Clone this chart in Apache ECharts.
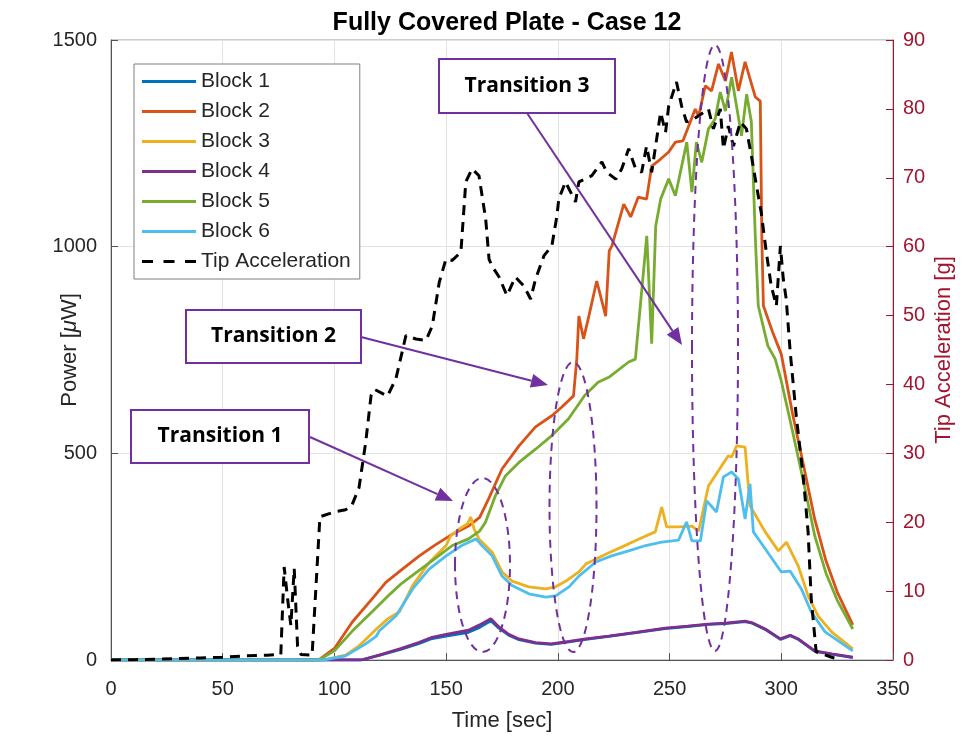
<!DOCTYPE html>
<html><head><meta charset="utf-8">
<script src="https://cdn.jsdelivr.net/npm/echarts@6/dist/echarts.min.js"></script>
<style>html,body{margin:0;padding:0;background:#fff}#c{width:978px;height:737px}</style>
</head><body><div id="c"></div>
<script>
// ---- data: [time (s), value] ----
const block1 = [[0,0],[112,0],[120,11],[130,26],[138,40],[143.7,52],[150,58],[160,67],[165,79],[170,95],[173.6,77],[178,60],[182.6,49],[190,41],[197,38],[205,44],[212.5,50],[222.8,57],[235,66],[248,76],[258,81],[267.4,86],[275,88],[283.8,93],[287,89],[292.8,74],[299.6,50],[304,59],[307.6,50],[315,21],[322.5,14],[332,6]];
const block2 = [[0,0],[93,0],[100,28],[108,92],[118,155],[123,188],[130,218],[138,252],[145,278],[153,305],[160,324],[165,345],[169,390],[175,462],[182.6,518],[190,564],[197.3,591],[201.8,612],[207,639],[208.5,730],[209.4,832],[211.5,777],[214,835],[217.4,917],[221.4,832],[223,990],[224.2,1002],[229.5,1103],[232.6,1072],[236,1120],[239.7,1115],[242,1195],[246,1212],[249.6,1229],[252.6,1253],[256,1256],[261.5,1333],[263,1316],[266,1389],[268.8,1377],[271.9,1442],[275,1401],[277.7,1471],[280.8,1377],[283.8,1447],[288.4,1362],[290.6,1352],[291.3,1019],[292,857],[296,795],[300,740],[305,597],[310,470],[315,340],[320,240],[325,165],[332,85]];
const block3 = [[0,0],[95,0],[105,12],[111,34],[118.8,75],[124,100],[129,116],[135,180],[142.4,236],[150,277],[152,300],[155.8,317],[159.5,329],[161,346],[162.5,317],[164.7,293],[170.6,261],[175,213],[179.5,191],[187,177],[194.6,172],[199,177],[203.6,191],[209.4,213],[212.5,232],[221.4,256],[231.7,281],[239.3,300],[243.6,310],[246.5,370],[248.7,322],[254,322],[260,324],[263,312],[267.4,421],[273.2,469],[276.3,494],[277.8,491],[280,518],[283.8,515],[286,373],[292.8,310],[298.7,264],[302.3,285],[307.6,227],[312,155],[316.5,106],[322.5,68],[332,27]];
const block4 = [[0,0],[112,0],[120,12],[130,28],[138,43],[143.7,55],[150,62],[160,72],[165,85],[170,100],[173.6,80],[178,62],[182.6,51],[190,42],[197,39],[205,45],[212.5,51],[222.8,58],[235,67],[248,77],[258,82],[267.4,87],[275,89],[283.8,94],[287,90],[292.8,75],[299.6,51],[304,60],[307.6,51],[315,22],[322.5,15],[332,7]];
const block5 = [[0,0],[93,0],[100,22],[108,70],[118,123],[125,160],[130,185],[137,213],[145,245],[152.8,277],[160,293],[165,312],[167.6,333],[172,397],[176.6,446],[182.6,478],[190,510],[197.3,543],[204.7,583],[212,640],[218,672],[222.8,684],[231.7,721],[234.7,728],[239.8,1026],[242,765],[243.8,1050],[246,1115],[249.6,1164],[252.6,1123],[257.7,1253],[260,1132],[262,1253],[264.4,1204],[267.4,1285],[270.4,1309],[272.7,1374],[275,1328],[277.8,1410],[282.2,1268],[284.5,1369],[286.6,1302],[288.4,1019],[289.7,857],[294,760],[297.3,728],[300,675],[305,554],[310,430],[315,300],[320,210],[325,145],[332,75]];
const block6 = [[0,0],[95,0],[105,10],[114,39],[118.8,58],[120,70],[127.6,107],[135,172],[142.4,220],[150,252],[157,277],[163.4,293],[166,277],[170.6,252],[175,203],[179.5,180],[187,160],[194.6,152],[199,155],[205,177],[209.4,203],[217,237],[224,252],[231.7,264],[239.3,277],[246.5,285],[254,290],[257.6,334],[260,288],[263.8,288],[266.6,385],[271,358],[274.1,443],[277.8,455],[280.8,438],[283.8,341],[286,426],[287.5,310],[292.8,269],[300,213],[304,215],[309,172],[313.4,116],[319.6,68],[332,22]];
const tipAccel = [[0,0],[10,0.05],[20,0.1],[30,0.2],[40,0.3],[50,0.4],[60,0.6],[70,0.7],[76,0.8],[77.5,13.5],[79,9],[80.5,5],[82,13.3],[83.5,2],[85,0.8],[90,0.7],[92.5,15],[93.5,20.8],[100,21.5],[105,21.8],[107.6,22.3],[111,25],[114,31.6],[116.4,38.4],[117.9,39.3],[123.7,38.3],[127.5,40.8],[132,47.1],[136.5,46.6],[141,46.4],[143.8,48.5],[146.9,54.8],[149.9,58.2],[152.7,58],[156.6,59.2],[158.8,69.4],[161.6,71.3],[164.7,70.3],[167.7,64],[169.2,58.2],[170.5,57.2],[173.7,55.6],[177.2,52.9],[181,55.6],[184.8,54.3],[187.8,52.4],[190,55.3],[193.8,58.7],[197.3,60.1],[199.6,64.5],[200.4,66.9],[203.4,69.4],[207.9,66.5],[209.4,69.4],[215.2,70.3],[219.7,72.3],[221.9,70.8],[225.9,69.8],[228.6,71.3],[231.7,74.2],[234.8,71.3],[237.5,70.8],[239.7,74.6],[242,70.8],[246,79.5],[248.2,76.6],[249.6,80.4],[253.1,83.9],[255.4,80.4],[257.6,78.1],[260.7,78.5],[263,79],[267.4,80],[269.6,77.1],[272.7,80],[274.1,74.2],[276.3,77.5],[278.6,74.6],[281.7,78.1],[284.4,77.1],[286.6,73.2],[288.4,69.8],[291,65],[293.3,59.2],[295.5,54.3],[297.8,51.4],[299.6,60.1],[300.9,55.3],[302.2,52.4],[304,44.7],[306.7,35.4],[309.8,26.7],[312,18.6],[313.4,8.9],[315.6,1.2],[322.5,0.4],[326,0.1]];

const seriesNames = ['Block 1','Block 2','Block 3','Block 4','Block 5','Block 6','Tip Acceleration'];
const seriesColors = ['#0072BD','#D95319','#EDB120','#7E2F8E','#77AC30','#4DBEEE','#000000'];
const titleText = 'Fully Covered Plate - Case 12';
const xName = 'Time [sec]';
const annotations = ['Transition 1','Transition 2','Transition 3'];

const purple = '#7030A0';
const axisGray = '#262626';
const crimson = '#A2142F';
const FONT = '"Liberation Sans", Arial, sans-serif';
const solidIcon = 'path://M0,0h54v3h-54z';
const dashIcon = 'path://M0,0h11v3h-11zM21.5,0h11v3h-11zM43,0h11v3h-11z';

function arrowGfx(x1,y1,x2,y2){
  const L=17, W=7;
  const a=Math.atan2(y2-y1,x2-x1), c=Math.cos(a), s=Math.sin(a);
  const bx=x2-L*c, by=y2-L*s;
  return [
    {type:'line', shape:{x1:x1,y1:y1,x2:bx,y2:by}, style:{stroke:purple,lineWidth:2}, z:100},
    {type:'polygon', shape:{points:[[x2,y2],[bx+W*s,by-W*c],[bx-W*s,by+W*c]]}, style:{fill:purple}, z:100}
  ];
}
function boxGfx(x,y,w,h,text){
  return [
    {type:'rect', shape:{x:x,y:y,width:w,height:h}, style:{fill:'#fff',stroke:purple,lineWidth:2}, z:100},
    {type:'text', x:x+w/2, y:y+h/2, style:{text:text, fill:'#000', font:'bold 21px "Open Sans", Lato, sans-serif', textAlign:'center', textVerticalAlign:'middle'}, z:101}
  ];
}
function ellipseGfx(cx,cy,rx,ry){
  return {type:'ellipse', shape:{cx:cx,cy:cy,rx:rx,ry:ry}, style:{fill:null,stroke:purple,lineWidth:2,lineDash:[8,6]}, z:99};
}

const chart = echarts.init(document.getElementById('c'));
const dataSets = [block1,block2,block3,block4,block5,block6,tipAccel];
const series = dataSets.map((d,i)=>({
  name: seriesNames[i], type:'line', data:d, yAxisIndex: i===6?1:0,
  symbol:'none', smooth:false, animation:false,
  lineStyle:{color:seriesColors[i], width: i===6?3:2.8, type: i===6?[10,7]:'solid'},
  itemStyle:{color:seriesColors[i]},
  z: 2+i
}));

chart.setOption({
  animation:false,
  title:{text:titleText, left:502, top:6, textAlign:'center',
    textStyle:{fontFamily:FONT, fontWeight:'bold', fontSize:25, color:'#000'}},
  grid:{left:111, right:85, top:40, bottom:76, show:true, borderColor:'#9a9a9a', borderWidth:1, containLabel:false},
  legend:{orient:'vertical', left:134, top:64, padding:[7,9,7,8], itemWidth:54, itemHeight:3, itemGap:9,
    backgroundColor:'#fff', borderColor:'#7f7f7f', borderWidth:1, borderRadius:0,
    textStyle:{fontFamily:FONT, fontSize:21, color:axisGray, lineHeight:20},
    data:seriesNames.map((n,i)=>({name:n, icon: i===6?dashIcon:solidIcon}))},
  xAxis:{type:'value', min:0, max:350, interval:50, name:xName, nameLocation:'middle', nameGap:50, nameMoveOverlap:false,
    nameTextStyle:{fontFamily:FONT, fontSize:22, color:axisGray},
    axisLine:{show:true, lineStyle:{color:'#555', width:1}},
    axisTick:{show:true, inside:true, length:7, lineStyle:{color:'#555'}},
    axisLabel:{fontFamily:FONT, fontSize:20, color:axisGray, margin:19, formatter:v=>String(v)},
    splitLine:{show:true, lineStyle:{color:'#e3e3e3', width:1}}},
  yAxis:[
    {type:'value', min:0, max:1500, interval:500, position:'left',
      name:'Power [{i|μ}W]', nameLocation:'middle', nameGap:30, nameRotate:90, nameMoveOverlap:false,
      nameTextStyle:{fontFamily:FONT, fontSize:22, color:axisGray,
        rich:{i:{fontFamily:FONT, fontSize:22, fontStyle:'italic', color:axisGray}}},
      axisLine:{show:true, lineStyle:{color:'#555', width:1}},
      axisTick:{show:true, inside:true, length:7, lineStyle:{color:'#555'}},
      axisLabel:{fontFamily:FONT, fontSize:20, color:axisGray, margin:14, formatter:v=>String(v)},
      splitLine:{show:true, lineStyle:{color:'#e3e3e3', width:1}}},
    {type:'value', min:0, max:90, interval:10, position:'right',
      name:'Tip Acceleration [g]', nameLocation:'middle', nameGap:40, nameRotate:90, nameMoveOverlap:false,
      nameTextStyle:{fontFamily:FONT, fontSize:22, color:crimson},
      axisLine:{show:true, lineStyle:{color:crimson, width:1}},
      axisTick:{show:true, inside:true, length:7, lineStyle:{color:crimson}},
      axisLabel:{fontFamily:FONT, fontSize:20, color:crimson, margin:10, formatter:v=>String(v)},
      splitLine:{show:false}}
  ],
  series: series,
  graphic: [].concat(
    ellipseGfx(482.5,565,27.5,87),
    ellipseGfx(573,507,23.5,145),
    ellipseGfx(715,348,23,303),
    arrowGfx(310,437,453,501),
    arrowGfx(361,337,548,385),
    arrowGfx(527,113,682,345),
    boxGfx(131,410,178,53,annotations[0]),
    boxGfx(186,310,175,53,annotations[1]),
    boxGfx(439,59,176,54,annotations[2])
  )
});
</script></body></html>
